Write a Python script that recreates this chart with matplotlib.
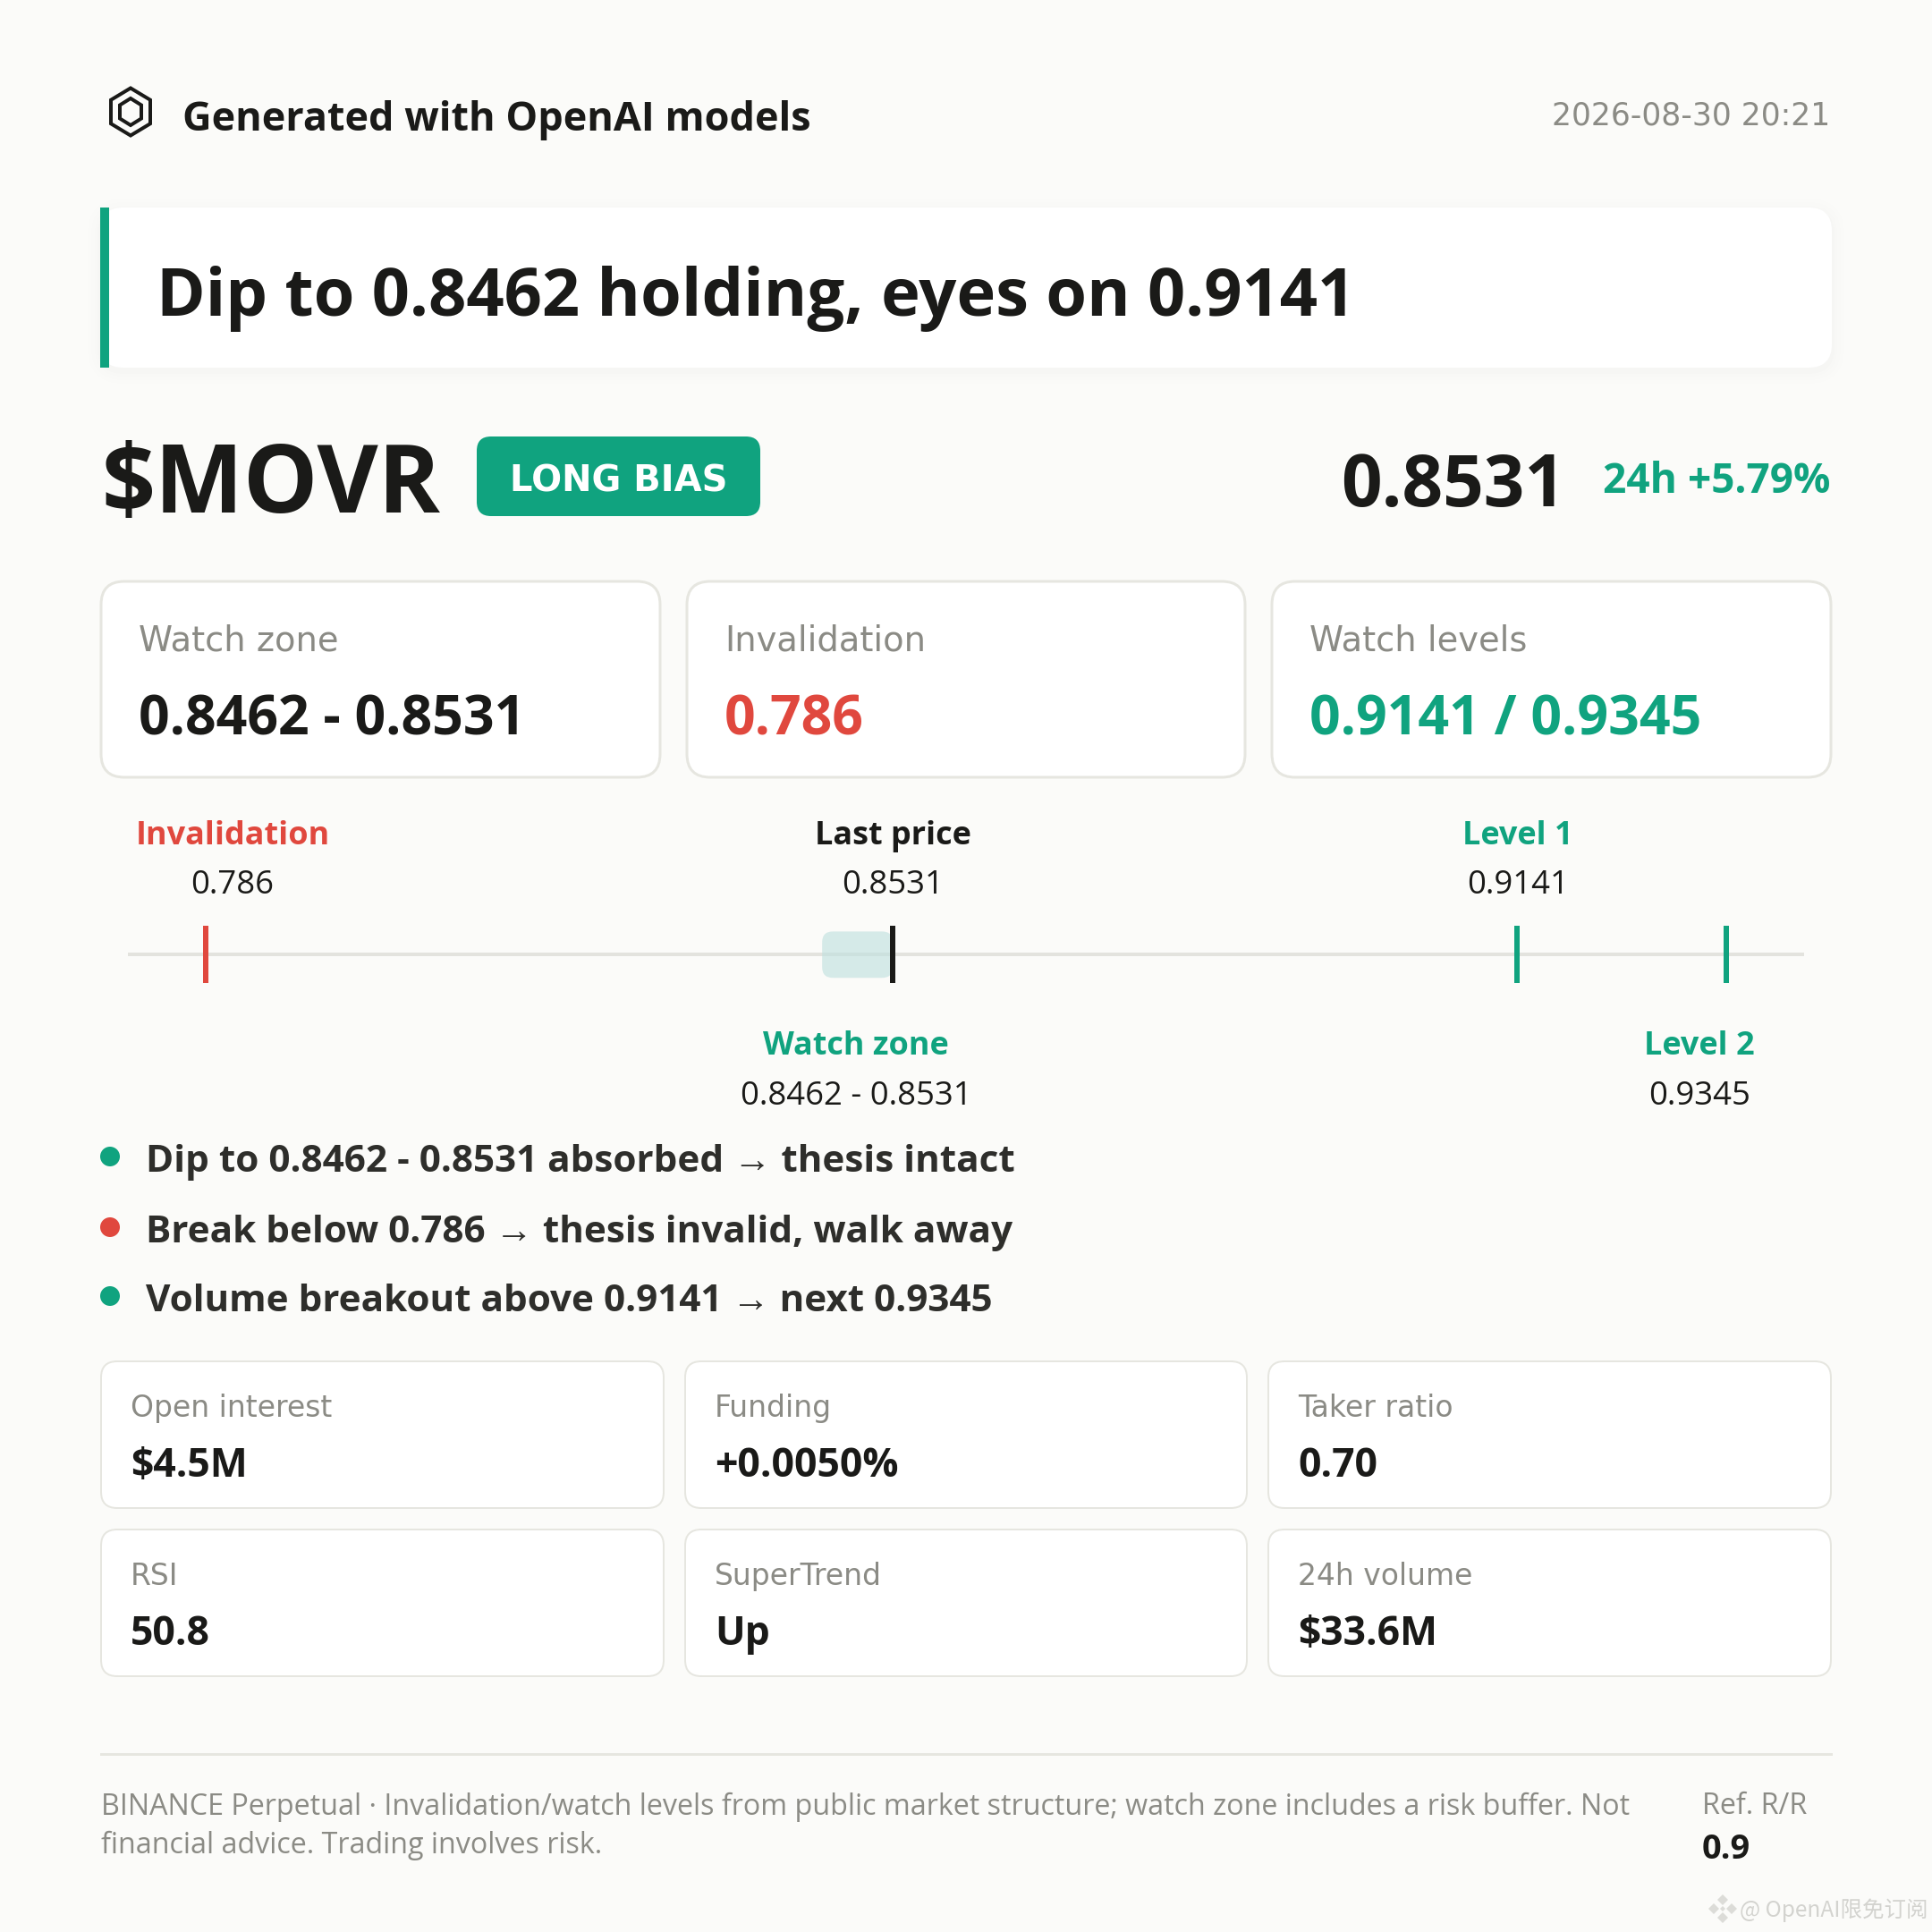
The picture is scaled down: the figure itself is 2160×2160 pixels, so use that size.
import matplotlib

matplotlib.use("Agg")
import matplotlib.pyplot as plt
from matplotlib.patches import Circle, FancyBboxPatch, Polygon, Rectangle

plt.rcParams["font.family"] = ["Open Sans", "Liberation Sans"]

# values
header_text = "Generated with OpenAI models"
timestamp = "2026-08-30 20:21"
headline = "Dip to 0.8462 holding, eyes on 0.9141"
ticker = "$MOVR"
bias = "LONG BIAS"
last_price = 0.8531
change_text = "24h +5.79%"

invalidation = 0.786
zone_low = 0.8462
zone_high = 0.8531
level_1 = 0.9141
level_2 = 0.9345

top_labels = ["Watch zone", "Invalidation", "Watch levels"]
top_values = ["0.8462 - 0.8531", "0.786", "0.9141 / 0.9345"]

bullets = [
    "Dip to 0.8462 - 0.8531 absorbed → thesis intact",
    "Break below 0.786 → thesis invalid, walk away",
    "Volume breakout above 0.9141 → next 0.9345",
]
bullet_kinds = ["up", "down", "up"]

metric_labels = ["Open interest", "Funding", "Taker ratio", "RSI", "SuperTrend", "24h volume"]
metric_values = ["$4.5M", "+0.0050%", "0.70", "50.8", "Up", "$33.6M"]

footer_lines = [
    "BINANCE Perpetual · Invalidation/watch levels from public market structure; watch zone includes a risk buffer. Not",
    "financial advice. Trading involves risk.",
]
rr_label = "Ref. R/R"
rr_value = "0.9"
watermark = "@ OpenAI限免订阅"

BG = "#fbfbf9"
INK = "#1a1a18"
BODY = "#2e2e2b"
GREY = "#8b8b85"
LINE = "#e6e6e0"
GREEN = "#10a37f"
RED = "#e0483e"
PX = 0.36  # px -> pt at dpi 200

fig = plt.figure(figsize=(10.8, 10.8), dpi=200, facecolor=BG)
ax = fig.add_axes([0, 0, 1, 1])
ax.set_xlim(0, 2160)
ax.set_ylim(2160, 0)
ax.axis("off")


def text(x, y, s, px, color=INK, weight="normal", ha="left", family=None):
    kw = {"family": family} if family else {}
    ax.text(x, y, s, fontsize=px * PX, color=color, fontweight=weight, ha=ha, va="baseline", zorder=5, **kw)


def card(x0, y0, x1, y1, radius, edge=LINE, lw=2.0, face="white", z=2):
    ax.add_patch(FancyBboxPatch(
        (x0, y0), x1 - x0, y1 - y0,
        boxstyle=f"round,pad=0,rounding_size={radius}",
        fc=face, ec=edge, lw=lw * PX, zorder=z,
    ))


def hexagon(cx, cy, w, h, **kw):
    pts = [(cx, cy - h / 2), (cx + w / 2, cy - h / 4), (cx + w / 2, cy + h / 4),
           (cx, cy + h / 2), (cx - w / 2, cy + h / 4), (cx - w / 2, cy - h / 4)]
    ax.add_patch(Polygon(pts, closed=True, fill=False, **kw))


# header
hexagon(146, 125, 44, 53, ec=INK, lw=4 * PX)
hexagon(146, 125, 24, 30, ec=INK, lw=4 * PX)
text(204, 146, header_text, 45, weight="bold")
text(2046, 140, timestamp, 34.7, color=GREY, ha="right", family="DejaVu Sans")

# headline card with soft shadow
for grow, alpha in [(14, 0.003), (10, 0.004), (6, 0.005), (3, 0.006)]:
    ax.add_patch(FancyBboxPatch(
        (112 - grow, 236 - grow), 1936 + 2 * grow, 179 + 2 * grow,
        boxstyle=f"round,pad=0,rounding_size={26 + grow}",
        fc="black", ec="none", alpha=alpha, zorder=1,
    ))
card(112, 232, 2048, 411, 26, edge="none", lw=0)
ax.add_patch(Rectangle((112, 232), 10, 179, fc=GREEN, ec="none", zorder=3))
text(175, 353, headline, 74, weight="bold")

# ticker row
text(114, 573, ticker, 105, weight="bold")
ax.add_patch(FancyBboxPatch(
    (533, 488), 317, 89, boxstyle="round,pad=0,rounding_size=16", fc=GREEN, ec="none", zorder=2,
))
ax.text(692, 549, bias, fontsize=40 * PX, color="white", fontweight="bold", ha="center",
        va="baseline", family="DejaVu Sans", zorder=3)
text(1750, 566, f"{last_price:.4f}", 80, weight="bold", ha="right")
text(2046, 551, change_text, 46, color=GREEN, weight="bold", ha="right")

# three top cards
top_x = [(113, 738), (768, 1392), (1422, 2047)]
top_colors = [INK, RED, GREEN]
for (x0, x1), label, value, color in zip(top_x, top_labels, top_values, top_colors):
    card(x0, 650, x1, 869, 26, lw=3)
    text(x0 + 42, 727, label, 38.5, color=GREY, family="DejaVu Sans")
    text(x0 + 42, 821, value, 60.8, color=color, weight="bold")

# price scale labels
text(260, 944, "Invalidation", 36, color=RED, weight="bold", ha="center")
text(260, 999, f"{invalidation:.3f}", 36.5, ha="center")
text(998, 944, "Last price", 36, weight="bold", ha="center")
text(998, 999, f"{last_price:.4f}", 36.5, ha="center")
text(1697, 944, "Level 1", 36, color=GREEN, weight="bold", ha="center")
text(1697, 999, f"{level_1:.4f}", 36.5, ha="center")
text(957, 1179, "Watch zone", 36, color=GREEN, weight="bold", ha="center")
text(957, 1235, f"{zone_low:.4f} - {zone_high:.4f}", 36.5, ha="center")
text(1900, 1179, "Level 2", 36, color=GREEN, weight="bold", ha="center")
text(1900, 1235, f"{level_2:.4f}", 36.5, ha="center")

# price scale, x axis in price units
track = fig.add_axes([143 / 2160, 1 - 1099 / 2160, 1874 / 2160, 64 / 2160])
track.set_xlim(0.7784, 0.9421)
track.set_ylim(0, 1)
track.axis("off")
track.axhline(0.5, color="#e3e3de", lw=4 * PX, zorder=1)
radius_x = 12 / (1874 / (0.9421 - 0.7784))
track.add_patch(FancyBboxPatch(
    (zone_low, 0.09), zone_high - zone_low, 0.81,
    boxstyle=f"round,pad=0,rounding_size={radius_x}",
    mutation_aspect=(12 / 64) / radius_x,
    fc="#bfe0de", ec="none", alpha=0.62, zorder=2,
))
track.vlines(invalidation, 0, 1, color=RED, lw=6 * PX, zorder=3)
track.vlines(last_price, 0, 1, color=INK, lw=6 * PX, zorder=3)
track.vlines([level_1, level_2], 0, 1, color=GREEN, lw=6 * PX, zorder=3)

# bullets
for y, line, kind in zip([1310, 1389, 1466], bullets, bullet_kinds):
    ax.add_patch(Circle((123, y - 17), 11, fc=GREEN if kind == "up" else RED, ec="none"))
    text(163, y, line, 42.3, color=BODY, weight="bold")

# metric grid
metric_x = [(113, 742), (766, 1394), (1418, 2047)]
metric_y = [(1522, 1686), (1710, 1874)]
for i, (label, value) in enumerate(zip(metric_labels, metric_values)):
    x0, x1 = metric_x[i % 3]
    y0, y1 = metric_y[i // 3]
    card(x0, y0, x1, y1, 18)
    text(x0 + 33, y0 + 62, label, 33, color=GREY, family="DejaVu Sans")
    text(x0 + 33, y0 + 129, value, 44.5, weight="bold")

# footer
ax.plot([113, 2047], [1961, 1961], color=LINE, lw=3 * PX)
text(113, 2029, footer_lines[0], 32.3, color=GREY)
text(113, 2072, footer_lines[1], 32.3, color=GREY)
text(1903, 2028, rr_label, 32.3, color=GREY)
text(1903, 2078, rr_value, 38, weight="bold")

# watermark
for dx, dy, size in [(0, -10, 6), (-10, 0, 6), (10, 0, 6), (0, 10, 6), (0, 0, 3)]:
    cx, cy = 1926 + dx, 2134 + dy
    ax.add_patch(Polygon(
        [(cx, cy - size), (cx + size, cy), (cx, cy + size), (cx - size, cy)],
        closed=True, fc="#dcdcd8", ec="none",
    ))
ax.text(1945, 2143, watermark, fontsize=24.5 * PX, color="#d3d3cf", ha="left", va="baseline",
        family=["Noto Sans CJK SC", "DejaVu Sans"])

fig.savefig("out.png", dpi=200, facecolor=BG)
